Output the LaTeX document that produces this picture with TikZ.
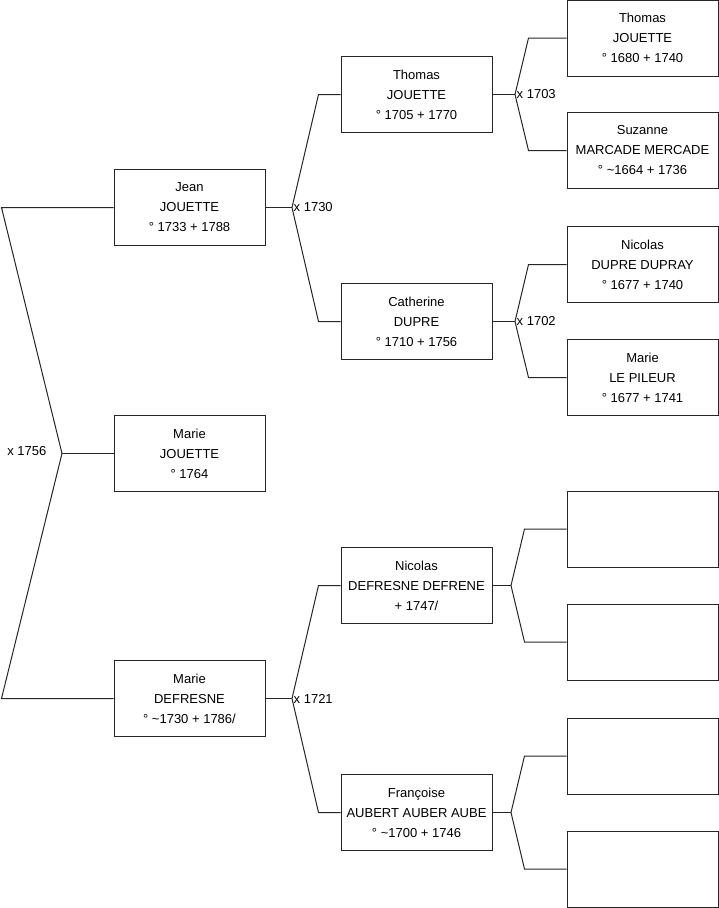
\documentclass[tikz,border=0pt]{standalone}
\usepackage{fontspec}
\setmainfont{Liberation Sans}
\usetikzlibrary{positioning}
\tikzset{
  person/.style={draw=black!85, line width=1pt, fill=white, minimum width=151pt,
    minimum height=76pt, inner sep=0pt, align=center, font=\fontsize{13}{20}\selectfont},
  link/.style={draw=black!85, line width=1pt},
  wed/.style={font=\fontsize{13}{15}\selectfont, inner sep=1.5pt}
}
\begin{document}
\begin{tikzpicture}[x=1pt,y=-1pt]
\useasboundingbox (0,0) rectangle (719,908);
% first generation
\node[person] (jean) at (189.5,207.5) {Jean\\JOUETTE\\° 1733 + 1788};
\node[person] (marieJ) at (189.5,453.5) {Marie\\JOUETTE\\° 1764};
\node[person] (marieD) at (189.5,698.5) {Marie\\DEFRESNE\\° \textasciitilde1730 + 1786/};
% second generation
\node[person] (thomas) at (416.5,94.5) {Thomas\\JOUETTE\\° 1705 + 1770};
\node[person] (catherine) at (416.5,321.5) {Catherine\\DUPRE\\° 1710 + 1756};
\node[person] (nicolasD) at (416.5,585.5) {Nicolas\\DEFRESNE DEFRENE\\+ 1747/};
\node[person] (francoise) at (416.5,812.5) {Françoise\\AUBERT AUBER AUBE\\° \textasciitilde1700 + 1746};
% third generation
\node[person] (thomasJ) at (642.5,38) {Thomas\\JOUETTE\\° 1680 + 1740};
\node[person] (suzanne) at (642.5,150.5) {Suzanne\\MARCADE MERCADE\\° \textasciitilde1664 + 1736};
\node[person] (nicolasP) at (642.5,264.5) {Nicolas\\DUPRE DUPRAY\\° 1677 + 1740};
\node[person] (marieP) at (642.5,377.5) {Marie\\LE PILEUR\\° 1677 + 1741};
\node[person] (blankA) at (642.5,529) {};
\node[person] (blankB) at (642.5,642) {};
\node[person] (blankC) at (642.5,756) {};
\node[person] (blankD) at (642.5,869) {};
% junctions
\coordinate (xM) at (62,453.5);
\coordinate (xJ) at (292,207.5);
\coordinate (xD) at (292,698.5);
\coordinate (xT) at (515,94.5);
\coordinate (xC) at (515,321.5);
\coordinate (xN) at (511,585.5);
\coordinate (xF) at (511,812.5);
% links
\draw[link] (marieJ.west) -- (xM);
\draw[link] (jean.west) -- ([xshift=-112]jean.west) -- (xM) -- ([xshift=-112]marieD.west) -- (marieD.west);
\draw[link] (jean.east) -- (xJ);
\draw[link] (thomas.west) -- ([xshift=-22]thomas.west) -- (xJ) -- ([xshift=-22]catherine.west) -- (catherine.west);
\draw[link] (marieD.east) -- (xD);
\draw[link] (nicolasD.west) -- ([xshift=-22]nicolasD.west) -- (xD) -- ([xshift=-22]francoise.west) -- (francoise.west);
\draw[link] (thomas.east) -- (xT);
\draw[link] (thomasJ.west) -- ([xshift=-38]thomasJ.west) -- (xT) -- ([xshift=-38]suzanne.west) -- (suzanne.west);
\draw[link] (catherine.east) -- (xC);
\draw[link] (nicolasP.west) -- ([xshift=-38]nicolasP.west) -- (xC) -- ([xshift=-38]marieP.west) -- (marieP.west);
\draw[link] (nicolasD.east) -- (xN);
\draw[link] (blankA.west) -- ([xshift=-42]blankA.west) -- (xN) -- ([xshift=-42]blankB.west) -- (blankB.west);
\draw[link] (francoise.east) -- (xF);
\draw[link] (blankC.west) -- ([xshift=-42]blankC.west) -- (xF) -- ([xshift=-42]blankD.west) -- (blankD.west);
% marriage years
\node[wed, anchor=east] (wM) at (48,451) {x 1756};
\node[wed, anchor=west] (wJ) at (xJ) {x 1730};
\node[wed, anchor=west] (wD) at (xD) {x 1721};
\node[wed, anchor=west] (wT) at (xT) {x 1703};
\node[wed, anchor=west] (wC) at (xC) {x 1702};
\end{tikzpicture}
\end{document}
